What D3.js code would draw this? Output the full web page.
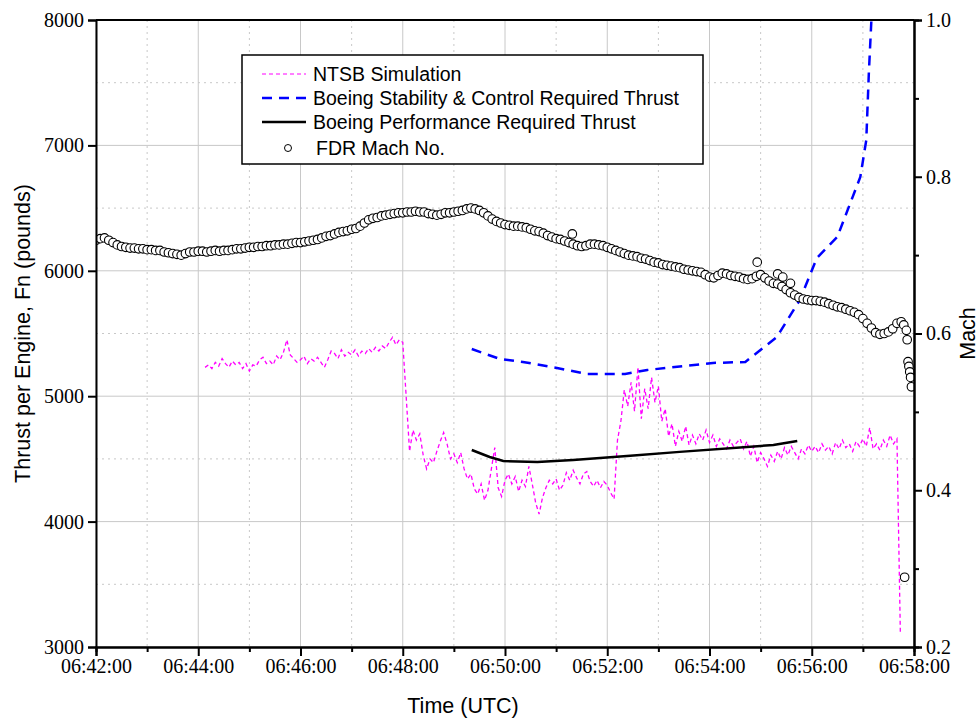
<!DOCTYPE html>
<html>
<head>
<meta charset="utf-8">
<script src="https://cdn.jsdelivr.net/npm/d3@7"></script>
<style>
  body { margin: 0; background: #fff; }
  .tick text { font-family: "Liberation Serif", "Times New Roman", serif; font-size: 20px; fill: #000; }
  .axisTitle { font-family: "Liberation Sans", Arial, sans-serif; font-size: 21.5px; fill: #000; }
  .legend text { font-family: "Liberation Sans", Arial, sans-serif; font-size: 19.5px; fill: #000; }
</style>
</head>
<body>
<div class="chart"></div>
<script>
// ---- data ----
var thrustTicks = [3000, 4000, 5000, 6000, 7000, 8000];
var thrustMinorTicks = [3500, 4500, 5500, 6500, 7500];
var machTicks = [0.2, 0.4, 0.6, 0.8, 1.0];
var machMinorTicks = [0.3, 0.5, 0.7, 0.9];
var timeTicks = ["06:42:00", "06:44:00", "06:46:00", "06:48:00", "06:50:00", "06:52:00", "06:54:00", "06:56:00", "06:58:00"];
var timeMinorTicks = ["06:43:00", "06:45:00", "06:47:00", "06:49:00", "06:51:00", "06:53:00", "06:55:00", "06:57:00"];

// FDR Mach No., one sample every 5 s from 06:42:00
var machStart = "06:42:00";
var machStepSec = 5;
var machValues = [
  0.719, 0.721, 0.722, 0.719, 0.716, 0.713, 0.711, 0.710, 0.709, 0.709,
  0.708, 0.708, 0.707, 0.707, 0.706, 0.706, 0.704, 0.703, 0.702, 0.701,
  0.700, 0.702, 0.704, 0.704, 0.705, 0.705, 0.704, 0.705, 0.706, 0.705,
  0.706, 0.706, 0.707, 0.708, 0.708, 0.709, 0.710, 0.710, 0.711, 0.711,
  0.712, 0.712, 0.713, 0.713, 0.714, 0.714, 0.715, 0.716, 0.716, 0.717,
  0.718, 0.719, 0.720, 0.722, 0.724, 0.725, 0.727, 0.729, 0.730, 0.731,
  0.733, 0.734, 0.737, 0.741, 0.745, 0.747, 0.748, 0.750, 0.751, 0.752,
  0.753, 0.754, 0.754, 0.755, 0.755, 0.756, 0.755, 0.755, 0.753, 0.752,
  0.751, 0.752, 0.754, 0.754, 0.755, 0.756, 0.757, 0.759, 0.760, 0.759,
  0.757, 0.754, 0.750, 0.746, 0.743, 0.741, 0.739, 0.738, 0.737, 0.737,
  0.736, 0.735, 0.733, 0.731, 0.730, 0.728, 0.725, 0.723, 0.721, 0.720,
  0.718, 0.716, 0.714, 0.712, 0.711, 0.712, 0.714, 0.714, 0.713, 0.712,
  0.710, 0.708, 0.706, 0.704, 0.702, 0.700, 0.699, 0.698, 0.696, 0.695,
  0.693, 0.691, 0.690, 0.688, 0.687, 0.686, 0.685, 0.684, 0.682, 0.681,
  0.680, 0.679, 0.678, 0.675, 0.672, 0.671, 0.674, 0.677, 0.676, 0.674,
  0.673, 0.672, 0.670, 0.669, 0.670, 0.673, 0.675, 0.671, 0.667, 0.664,
  0.663, 0.660, 0.656, 0.652, 0.649, 0.646, 0.644, 0.643, 0.642, 0.642,
  0.641, 0.640, 0.638, 0.636, 0.634, 0.633, 0.631, 0.629, 0.627, 0.624,
  0.619, 0.613, 0.607, 0.601, 0.599, 0.600, 0.602, 0.606, 0.613, 0.615
];
var machExtraTimes = ["06:51:19", "06:54:56", "06:55:20", "06:55:26", "06:55:35",
  "06:57:48", "06:57:51", "06:57:52", "06:57:53", "06:57:54", "06:57:55", "06:57:56", "06:57:57", "06:57:49"];
var machExtraValues = [0.727, 0.691, 0.676, 0.672, 0.664,
  0.611, 0.604, 0.592, 0.564, 0.558, 0.551, 0.544, 0.532, 0.289];

// NTSB Simulation thrust, one sample every 4 s from 06:44:08
var ntsbStart = "06:44:08";
var ntsbStepSec = 4;
var ntsbValues = [
  5230, 5250, 5220, 5270, 5240, 5300, 5260, 5230, 5280, 5250,
  5270, 5220, 5260, 5200, 5250, 5240, 5290, 5310, 5260, 5280,
  5250, 5320, 5290, 5350, 5450, 5330, 5300, 5270, 5290, 5320,
  5260, 5300, 5280, 5310, 5270, 5230, 5290, 5360, 5340, 5300,
  5370, 5320, 5350, 5330, 5370, 5320, 5360, 5340, 5380, 5350,
  5390, 5360, 5400, 5380, 5430, 5470, 5410, 5450, 5430, 5000,
  4560, 4730, 4650, 4700, 4530, 4420, 4500, 4470, 4560, 4640,
  4710, 4620, 4500, 4540, 4470, 4550, 4420, 4340, 4380, 4260,
  4220, 4300, 4170, 4250, 4420, 4590, 4270, 4200, 4330, 4380,
  4300, 4360, 4240, 4330, 4280, 4440, 4300, 4150, 4060, 4190,
  4270, 4330, 4300, 4340, 4250, 4290, 4390, 4330, 4410, 4350,
  4300, 4380, 4400, 4320, 4280, 4330, 4270, 4320, 4290, 4230,
  4180, 4650, 4800, 5050, 4920, 5110, 4880, 5230, 4820, 5060,
  4900, 5150, 4950, 5080, 4800, 4900, 4680, 4780, 4600, 4720,
  4640, 4760, 4610, 4690, 4620, 4700, 4650, 4730, 4630, 4690,
  4600, 4660, 4620, 4580, 4650, 4600, 4630, 4660, 4580, 4640,
  4520, 4600, 4470, 4550, 4500, 4440, 4530, 4480, 4560, 4500,
  4590, 4530, 4600, 4550, 4500, 4580, 4540, 4610, 4560, 4600,
  4550, 4620, 4570, 4600, 4540, 4630, 4580, 4650, 4590, 4620,
  4560, 4640, 4600, 4660, 4600, 4750, 4580, 4620, 4570, 4650,
  4600, 4690, 4620, 4660, 3100
];

// Boeing Stability & Control required thrust
var scTimes = ["06:49:21", "06:49:54", "06:50:21", "06:51:01", "06:51:36", "06:52:21", "06:52:47",
  "06:54:04", "06:54:42", "06:55:19", "06:55:46", "06:56:06", "06:56:30", "06:56:57", "06:57:04",
  "06:57:07", "06:57:10", "06:57:12"];
var scThrust = [5376, 5297, 5273, 5225, 5177, 5177, 5209,
  5265, 5273, 5472, 5767, 6102, 6270, 6748, 7043,
  7577, 8000, 8300];

// Boeing Performance required thrust
var perfTimes = ["06:49:21", "06:49:42", "06:49:58", "06:50:38", "06:51:20", "06:52:27", "06:53:25", "06:54:44", "06:55:15", "06:55:43"];
var perfThrust = [4571, 4515, 4483, 4475, 4491, 4525, 4556, 4595, 4611, 4643];

var legendLabels = ["NTSB Simulation", "Boeing Stability & Control Required Thrust", "Boeing Performance Required Thrust", "FDR Mach No."];

// ---- layout ----
var svgWidth = 980;
var svgHeight = 719;
var margin = { top: 20, right: 66, bottom: 72, left: 96 };
var width = svgWidth - margin.left - margin.right;
var height = svgHeight - margin.top - margin.bottom;

var parseTime = d3.timeParse("%H:%M:%S");

var svg = d3.select(".chart")
  .append("svg")
  .attr("width", svgWidth)
  .attr("height", svgHeight);

var chartGroup = svg.append("g")
  .attr("transform", `translate(${margin.left}, ${margin.top})`);

// scales
var xTimeScale = d3.scaleTime()
  .domain([parseTime("06:42:00"), parseTime("06:58:00")])
  .range([0, width]);
var yThrustScale = d3.scaleLinear().domain([3000, 8000]).range([height, 0]);
var yMachScale = d3.scaleLinear().domain([0.2, 1.0]).range([height, 0]);

// grid
var gridColor = "#c8c8c8";
chartGroup.append("g").selectAll("line")
  .data(thrustTicks).enter().append("line")
  .attr("x1", 0).attr("x2", width)
  .attr("y1", d => yThrustScale(d)).attr("y2", d => yThrustScale(d))
  .attr("stroke", gridColor).attr("stroke-width", 1);
chartGroup.append("g").selectAll("line")
  .data(thrustMinorTicks).enter().append("line")
  .attr("x1", 0).attr("x2", width)
  .attr("y1", d => yThrustScale(d)).attr("y2", d => yThrustScale(d))
  .attr("stroke", gridColor).attr("stroke-width", 1).attr("stroke-dasharray", "2,4");
chartGroup.append("g").selectAll("line")
  .data(timeTicks.map(parseTime)).enter().append("line")
  .attr("x1", d => xTimeScale(d)).attr("x2", d => xTimeScale(d))
  .attr("y1", 0).attr("y2", height)
  .attr("stroke", gridColor).attr("stroke-width", 1);
chartGroup.append("g").selectAll("line")
  .data(timeMinorTicks.map(parseTime)).enter().append("line")
  .attr("x1", d => xTimeScale(d)).attr("x2", d => xTimeScale(d))
  .attr("y1", 0).attr("y2", height)
  .attr("stroke", gridColor).attr("stroke-width", 1).attr("stroke-dasharray", "2,4");

// clip to plot area
svg.append("defs").append("clipPath").attr("id", "plotClip")
  .append("rect").attr("x", 0).attr("y", 0).attr("width", width).attr("height", height);
var plot = chartGroup.append("g").attr("clip-path", "url(#plotClip)");

// series
var ntsbData = ntsbValues.map((v, i) => ({ t: d3.timeSecond.offset(parseTime(ntsbStart), i * ntsbStepSec), v: v }));
var scData = scTimes.map((t, i) => ({ t: parseTime(t), v: scThrust[i] }));
var perfData = perfTimes.map((t, i) => ({ t: parseTime(t), v: perfThrust[i] }));
var machData = machValues.map((v, i) => ({ t: d3.timeSecond.offset(parseTime(machStart), i * machStepSec), v: v }))
  .concat(machExtraTimes.map((t, i) => ({ t: parseTime(t), v: machExtraValues[i] })));

var thrustLine = d3.line()
  .x(d => xTimeScale(d.t))
  .y(d => yThrustScale(d.v));

plot.append("path")
  .datum(ntsbData)
  .attr("d", thrustLine)
  .attr("fill", "none")
  .attr("stroke", "#ff00ff")
  .attr("stroke-width", 1.3)
  .attr("stroke-dasharray", "4,3");

plot.append("path")
  .datum(scData)
  .attr("d", thrustLine)
  .attr("fill", "none")
  .attr("stroke", "#0000ff")
  .attr("stroke-width", 2.5)
  .attr("stroke-dasharray", "10,7");

plot.append("path")
  .datum(perfData)
  .attr("d", thrustLine)
  .attr("fill", "none")
  .attr("stroke", "#000")
  .attr("stroke-width", 2.5);

plot.append("g").selectAll("circle")
  .data(machData).enter().append("circle")
  .attr("cx", d => xTimeScale(d.t))
  .attr("cy", d => yMachScale(d.v))
  .attr("r", 4.3)
  .attr("fill", "#fff")
  .attr("stroke", "#000")
  .attr("stroke-width", 1.1);

// axes
var timeFormat = d3.timeFormat("%H:%M:%S");
var bottomAxis = d3.axisBottom(xTimeScale)
  .tickValues(timeTicks.map(parseTime))
  .tickFormat(timeFormat)
  .tickSize(9).tickPadding(3);
var bottomMinor = d3.axisBottom(xTimeScale)
  .tickValues(timeMinorTicks.map(parseTime))
  .tickFormat("").tickSize(5);
var leftAxis = d3.axisLeft(yThrustScale)
  .tickValues(thrustTicks).tickFormat(d3.format("d"))
  .tickSize(8).tickPadding(4);
var rightAxis = d3.axisRight(yMachScale)
  .tickValues(machTicks).tickFormat(d3.format(".1f"))
  .tickSize(8).tickPadding(4);
var rightMinor = d3.axisRight(yMachScale)
  .tickValues(machMinorTicks).tickFormat("").tickSize(5);

function styleAxis(g) {
  g.select(".domain").attr("stroke", "#000").attr("stroke-width", 2);
  g.selectAll(".tick line").attr("stroke", "#000").attr("stroke-width", 2);
}

chartGroup.append("g").attr("transform", `translate(0, ${height})`).call(bottomMinor).call(styleAxis);
chartGroup.append("g").attr("transform", `translate(0, ${height})`).call(bottomAxis).call(styleAxis);
chartGroup.append("g").call(leftAxis).call(styleAxis);
chartGroup.append("g").attr("transform", `translate(${width}, 0)`).call(rightMinor).call(styleAxis);
chartGroup.append("g").attr("transform", `translate(${width}, 0)`).call(rightAxis).call(styleAxis);

// top frame
chartGroup.append("line")
  .attr("x1", 0).attr("x2", width).attr("y1", 0).attr("y2", 0)
  .attr("stroke", "#000").attr("stroke-width", 2);

// axis titles
chartGroup.append("text")
  .attr("class", "axisTitle")
  .attr("transform", "rotate(-90)")
  .attr("x", -height / 2)
  .attr("y", -margin.left + 30)
  .attr("text-anchor", "middle")
  .text("Thrust per Engine, Fn (pounds)");

chartGroup.append("text")
  .attr("class", "axisTitle")
  .attr("transform", "rotate(-90)")
  .attr("x", -height / 2)
  .attr("y", width + 61)
  .attr("text-anchor", "middle")
  .text("Mach");

chartGroup.append("text")
  .attr("class", "axisTitle")
  .attr("x", width / 2 - 42)
  .attr("y", height + 66)
  .attr("text-anchor", "middle")
  .text("Time (UTC)");

// legend
var legend = chartGroup.append("g")
  .attr("class", "legend")
  .attr("transform", "translate(146, 35)");

legend.append("rect")
  .attr("x", 0).attr("y", 0)
  .attr("width", 461).attr("height", 109)
  .attr("fill", "#fff")
  .attr("stroke", "#000")
  .attr("stroke-width", 1.5);

var rowY = [19, 43, 67, 93];
legend.append("line").attr("x1", 20).attr("x2", 64).attr("y1", rowY[0]).attr("y2", rowY[0])
  .attr("stroke", "#ff00ff").attr("stroke-width", 1.2).attr("stroke-dasharray", "4,3");
legend.append("line").attr("x1", 20).attr("x2", 64).attr("y1", rowY[1]).attr("y2", rowY[1])
  .attr("stroke", "#0000ff").attr("stroke-width", 2.5).attr("stroke-dasharray", "10,7");
legend.append("line").attr("x1", 20).attr("x2", 64).attr("y1", rowY[2]).attr("y2", rowY[2])
  .attr("stroke", "#000").attr("stroke-width", 2.5);
legend.append("circle").attr("cx", 46).attr("cy", rowY[3]).attr("r", 3.5)
  .attr("fill", "#fff").attr("stroke", "#000").attr("stroke-width", 1);

legend.selectAll("text")
  .data(legendLabels).enter().append("text")
  .attr("x", (d, i) => i === 3 ? 74 : 71)
  .attr("y", (d, i) => rowY[i] + 7)
  .text(d => d);
</script>
</body>
</html>
